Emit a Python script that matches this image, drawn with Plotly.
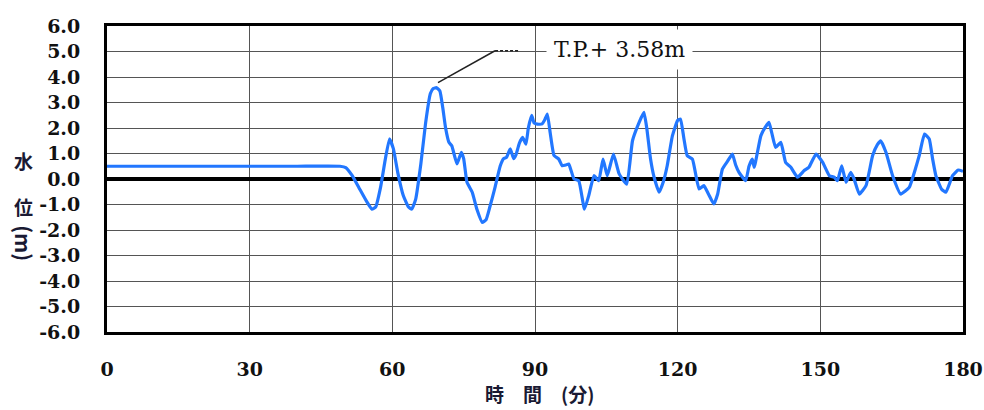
import plotly.graph_objects as go

# Water level record (minutes, metres T.P.)
time_min = [0, 10, 20, 30, 40, 49.0, 50.2, 51.5, 53.0, 54.5, 55.7, 56.5, 57.5, 58.5, 59.4,
            60.2, 61.2, 62.3, 63.4, 64.1, 64.9, 66.0, 67.0, 68.0, 68.6, 69.3, 70.0, 70.6,
            71.2, 71.9, 72.5, 73.6, 74.5, 75.0, 75.7, 76.8, 77.8, 78.9, 79.7, 80.5, 81.5,
            82.7, 83.4, 84.0, 84.8, 85.5, 86.0, 86.7, 87.4, 88.1, 88.6, 89.3, 89.8, 90.5,
            91.5, 92.0, 92.6, 93.2, 94.0, 95.0, 95.7, 96.5, 97.1, 98.2, 99.2, 100.4, 101.3,
            102.4, 103.4, 104.3, 105.2, 106.5, 107.7, 109.3, 110.5, 111.9, 112.9, 113.5,
            114.3, 115.0, 116.1, 117.0, 117.8, 118.9, 120.0, 120.6, 121.3, 122.0, 123.1,
            124.5, 125.5, 126.5, 127.6, 128.4, 129.4, 130.5, 131.5, 132.2, 132.9, 134.3,
            135.0, 135.7, 136.1, 137.5, 138.5, 139.2, 139.8, 140.6, 141.7, 142.7, 143.8,
            145.2, 146.6, 147.6, 149.1, 150.5, 151.9, 152.9, 153.6, 154.5, 155.4, 156.4,
            157.1, 158.2, 159.6, 161.0, 162.0, 162.7, 163.8, 165.2, 166.9, 168.7, 170.0,
            170.8, 171.9, 172.9, 173.6, 174.3, 175.5, 176.4, 177.8, 179.0, 180.0]
level_m = [0.50, 0.50, 0.50, 0.50, 0.50, 0.50, 0.45, 0.15, -0.35, -0.85, -1.18, -1.10, -0.35,
           0.75, 1.57, 1.20, 0.20, -0.65, -1.10, -1.18, -0.80, 0.60, 2.20, 3.35, 3.55, 3.58,
           3.45, 2.80, 2.00, 1.44, 1.30, 0.59, 1.05, 0.80, -0.13, -0.52, -1.20, -1.70, -1.60,
           -1.10, -0.40, 0.52, 0.80, 0.85, 1.18, 0.80, 0.95, 1.40, 1.63, 1.37, 2.00, 2.50,
           2.20, 2.15, 2.16, 2.30, 2.55, 1.80, 0.92, 0.78, 0.52, 0.55, 0.59, 0.00, -0.07,
           -1.18, -0.65, 0.13, -0.07, 0.78, 0.13, 0.98, 0.20, -0.20, 1.50, 2.22, 2.61, 2.00,
           0.78, 0.10, -0.52, -0.10, 0.52, 1.70, 2.30, 2.35, 1.60, 0.92, 0.78, -0.39, -0.26,
           -0.60, -0.98, -0.60, 0.39, 0.70, 0.98, 0.55, 0.26, -0.07, 0.50, 0.78, 0.46, 1.70,
           2.05, 2.22, 1.80, 1.24, 1.44, 0.65, 0.46, 0.07, 0.33, 0.46, 0.98, 0.65, 0.13, 0.07,
           -0.07, 0.52, -0.13, 0.26, 0.00, -0.59, -0.26, 0.92, 1.35, 1.50, 1.05, 0.13, -0.59,
           -0.33, 0.40, 0.92, 1.76, 1.57, 0.80, 0.13, -0.40, -0.52, 0.13, 0.35, 0.30]

x_ticks = [0, 30, 60, 90, 120, 150, 180]
y_ticks = [6, 5, 4, 3, 2, 1, 0, -1, -2, -3, -4, -5, -6]
y_tick_text = ["6.0", "5.0", "4.0", "3.0", "2.0", "1.0", "0.0",
               "-1.0", "-2.0", "-3.0", "-4.0", "-5.0", "-6.0"]

peak_label = "T.P.+ 3.58m"

# peak of the record, used to anchor the callout
i_peak = max(range(len(level_m)), key=lambda i: level_m[i])
t_peak, v_peak = time_min[i_peak], level_m[i_peak]

TICK_FONT = dict(family="DejaVu Serif", size=19, color="#111111", weight="bold")
CJK_FONT = dict(family="Noto Sans CJK JP", size=19, color="#1a1a33", weight="bold")

fig = go.Figure()

fig.add_trace(go.Scatter(
    x=time_min, y=level_m, mode="lines",
    line=dict(color="#2277ff", width=3.2, shape="spline", smoothing=0.4),
    showlegend=False, hoverinfo="skip",
))

# leader line from the peak to the label
elbow_t, elbow_v = t_peak + 12.3, v_peak + 1.45
fig.add_trace(go.Scatter(
    x=[t_peak + 0.3, elbow_t], y=[v_peak + 0.2, elbow_v], mode="lines",
    line=dict(color="#222222", width=1.5), showlegend=False, hoverinfo="skip",
))
fig.add_trace(go.Scatter(
    x=[elbow_t, elbow_t + 5], y=[elbow_v, elbow_v], mode="lines",
    line=dict(color="#222222", width=1.5, dash="3px,2px"), showlegend=False,
    hoverinfo="skip",
))

fig.add_annotation(
    x=t_peak + 38.5, y=v_peak + 1.5, xref="x", yref="y",
    text=peak_label, showarrow=False,
    font=dict(family="DejaVu Serif", size=22, color="#111111"),
    bgcolor="white", borderpad=7,
)

# vertical y-axis title
fig.add_annotation(x=-0.097, y=0.562, xref="paper", yref="paper", text="水",
                   xanchor="center", showarrow=False, font=CJK_FONT)
fig.add_annotation(x=-0.097, y=0.41, xref="paper", yref="paper", text="位",
                   xanchor="center", showarrow=False, font=CJK_FONT)
fig.add_annotation(x=-0.097, y=0.225, xref="paper", yref="paper", text="(m)",
                   xanchor="center", showarrow=False, textangle=90,
                   font=dict(CJK_FONT, size=21))

# x-axis title
fig.add_annotation(x=0.505, y=-0.2, xref="paper", yref="paper",
                   text="時　間　(分)", showarrow=False, yanchor="middle",
                   xanchor="center", font=CJK_FONT)

fig.update_xaxes(
    range=[0, 180], tickvals=x_ticks, ticks="",
    showgrid=True, gridcolor="#555555", gridwidth=1,
    showline=True, linecolor="black", linewidth=3, mirror=True,
    zeroline=False, tickfont=TICK_FONT, ticklabelstandoff=18, automargin=False,
)
fig.update_yaxes(
    range=[-6, 6], tickvals=y_ticks, ticktext=y_tick_text, ticks="",
    showgrid=True, gridcolor="#555555", gridwidth=1,
    showline=True, linecolor="black", linewidth=3, mirror=True,
    zeroline=True, zerolinecolor="black", zerolinewidth=4,
    tickfont=TICK_FONT, ticklabelstandoff=20, automargin=False,
)

fig.update_layout(
    width=984, height=410,
    margin=dict(l=107, r=21, t=26, b=78),
    paper_bgcolor="white", plot_bgcolor="white",
)

fig.write_html("out.html")
